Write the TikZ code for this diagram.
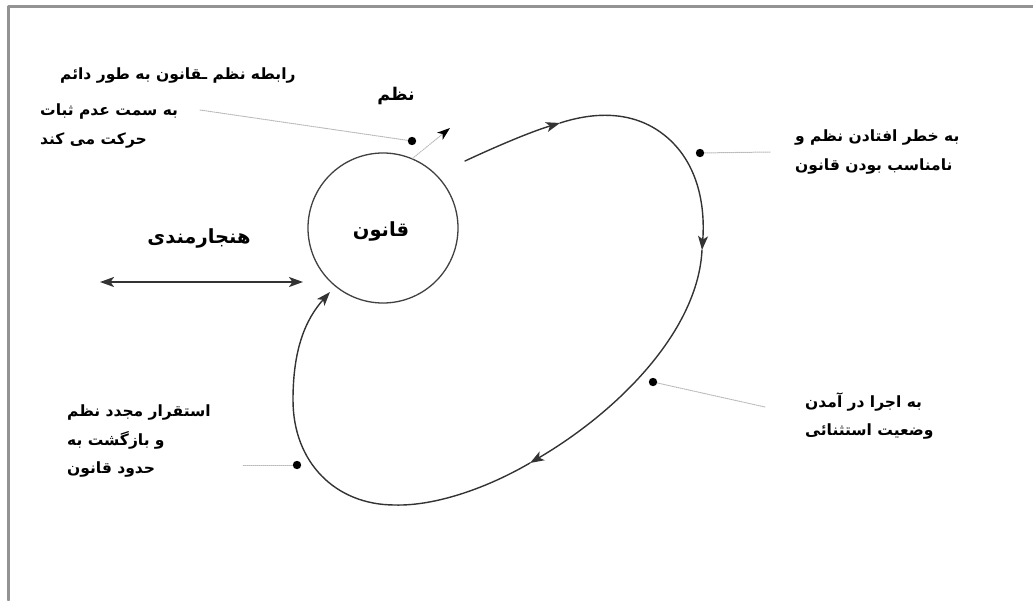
\documentclass[tikz,border=0pt]{standalone}
\usepackage{fontspec}
\newfontfamily\arabicfont[Script=Arabic]{DejaVu Sans}
\TeXXeTstate=1
\usetikzlibrary{arrows.meta}
\tikzset{
  lbl/.style={font=\arabicfont\bfseries\fontsize{15.5}{28.5}\selectfont, align=left, inner sep=0pt},
  big/.style={font=\arabicfont\bfseries\fontsize{19.5}{22}\selectfont, inner sep=0pt},
  leader/.style={gray!55, densely dotted, line width=1pt},
  cyc/.style={->, line width=1.4pt, black!80},
}
\begin{document}
\begin{tikzpicture}[x=1pt, y=-1pt, >={Stealth[length=14pt,width=10pt,inset=3.5pt]}, line join=round, line cap=round]
	\useasboundingbox (0,0) rectangle (1033,600);
	\draw[gray!85, line width=3pt] (8,600) -- (8,6) -- (1033,6);
	% قانون و نظم
	\node[circle, draw=black!75, line width=1.3pt, minimum size=150pt, inner sep=0pt] (qanun) at (383,228) {};
	\node[big] (qtxt) at (381,231) {\beginR قانون\endR};
	\node[big, font=\arabicfont\bfseries\fontsize{17.5}{20}\selectfont] (nazm) at (396,96) {\beginR نظم\endR};
	\node[big] (hanjar) at (199,238) {\beginR هنجارمندی\endR};
	\node[lbl, anchor=west] (rabete) at (60,76) {\beginR رابطه نظم ـقانون به طور دائم\endR};
	\node[lbl, anchor=west] (sabat) at (40,126) {\beginR به سمت عدم ثبات\endR\\ \beginR حرکت می کند\endR};
	\node[lbl, anchor=west] (khatar) at (795,152) {\beginR به خطر افتادن نظم و\endR\\ \beginR نامناسب بودن قانون\endR};
	\node[lbl, anchor=west] (ejra) at (805,416) {\beginR به اجرا در آمدن\endR\\ \beginR وضعیت استثنائی\endR};
	\node[lbl, anchor=west] (esteqrar) at (67,441) {\beginR استقرار مجدد نظم\endR\\ \beginR و بازگشت  به\endR\\ \beginR حدود قانون\endR};
	% نقاط
	\coordinate (d1) at (412,141); \coordinate (e1) at (200,110);
	\coordinate (d2) at (700,153); \coordinate (e2) at (770,152);
	\coordinate (d3) at (653,382); \coordinate (e3) at (765,407);
	\coordinate (d4) at (297,465); \coordinate (e4) at (243,465);
	\coordinate (ntip) at (450,128);
	\coordinate (hl) at (100,282); \coordinate (hr) at (303,282);
	\coordinate (l0) at (465,161); \coordinate (l1) at (560,123);
	\coordinate (l2) at (702,250); \coordinate (l3) at (530,463);
	\coordinate (l4) at (330,292);
	\foreach \i in {1,...,4}
	\draw[leader] (e\i) -- (d\i);
	\draw[leader, -{Stealth[color=black,length=13pt,width=9pt,inset=3.5pt]}] (qanun.67) -- (ntip);
	\foreach \i in {1,...,4}
	\fill (d\i) circle (4.2);
	\draw[<->, line width=2pt, black!80] (hl) -- (hr);
	% چرخه
	\draw[cyc] (l0) .. controls (495,147) and (530,132) .. (l1);
	\draw[cyc] (l1) .. controls (600,110) and (640,112) .. (670,140) .. controls (700,168) and (705,210) .. (l2);
	\draw[cyc] (l2) .. controls (698,330) and (620,410) .. (l3);
	\draw[cyc] (l3) .. controls (480,492) and (430,506) .. (395,505) .. controls (335,505) and (293,462) .. (293,400) .. controls (293,350) and (305,320) .. (l4);
\end{tikzpicture}
\end{document}
